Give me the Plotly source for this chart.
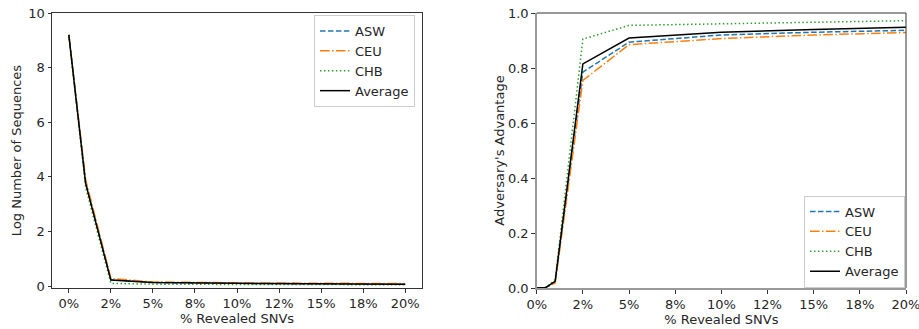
import plotly.graph_objects as go

# ---- data ----
x_pct = [0, 0.005, 0.01, 0.025, 0.05, 0.1, 0.15, 0.2]
tick_vals = [0, 0.025, 0.05, 0.075, 0.1, 0.125, 0.15, 0.175, 0.2]
tick_text = ["0%", "2%", "5%", "8%", "10%", "12%", "15%", "18%", "20%"]
series_names = ["ASW", "CEU", "CHB", "Average"]

log_seq = {
    "ASW":     [9.2, 6.45, 3.78, 0.24, 0.13, 0.10, 0.08, 0.07],
    "CEU":     [9.2, 6.55, 3.90, 0.28, 0.15, 0.12, 0.10, 0.09],
    "CHB":     [9.2, 6.35, 3.62, 0.10, 0.07, 0.06, 0.05, 0.05],
    "Average": [9.2, 6.45, 3.76, 0.22, 0.13, 0.10, 0.08, 0.07],
}
advantage = {
    "ASW":     [0.0, 0.002, 0.022, 0.785, 0.894, 0.920, 0.930, 0.937],
    "CEU":     [0.0, 0.002, 0.018, 0.755, 0.885, 0.907, 0.920, 0.929],
    "CHB":     [0.0, 0.002, 0.030, 0.905, 0.955, 0.960, 0.966, 0.972],
    "Average": [0.0, 0.002, 0.024, 0.815, 0.909, 0.930, 0.940, 0.948],
}

colors = {"ASW": "#1f77b4", "CEU": "#ff7f0e", "CHB": "#2ca02c", "Average": "#000000"}
dashes = {"ASW": "5.55px,2.4px", "CEU": "9.6px,2.4px,1.5px,2.4px",
          "CHB": "1.5px,2.475px", "Average": "solid"}

FONT = "DejaVu Sans"
FS = 13
LFS = 13
TXT = "#262626"

fig = go.Figure()
for name in series_names:
    fig.add_trace(go.Scatter(x=x_pct, y=log_seq[name], mode="lines", name=name,
                             line=dict(color=colors[name], dash=dashes[name], width=1.5),
                             xaxis="x", yaxis="y", legend="legend"))
for name in series_names:
    fig.add_trace(go.Scatter(x=x_pct, y=advantage[name], mode="lines", name=name,
                             line=dict(color=colors[name], dash=dashes[name], width=1.5),
                             xaxis="x2", yaxis="y2", legend="legend2"))

W, H = 919, 329
yd = [1 - 288 / H, 1 - 13 / H]

axis_common = dict(showgrid=False, zeroline=False, ticks="outside", ticklen=3.5,
                   tickwidth=1, tickcolor="#333", automargin=False,
                   ticklabeloverflow="allow",
                   tickfont=dict(family=FONT, size=FS, color=TXT))

fig.update_layout(
    width=W, height=H, margin=dict(l=0, r=0, t=0, b=0, autoexpand=False),
    paper_bgcolor="white", plot_bgcolor="white",
    font=dict(family=FONT, size=FS, color=TXT),
    xaxis=dict(domain=[52 / W, 422 / W], range=[-0.01, 0.21], tickvals=tick_vals,
               ticktext=tick_text, showline=True, mirror=True, linecolor="#333", linewidth=1,
               title=dict(text="% Revealed SNVs", standoff=0, font=dict(size=FS)),
               anchor="y", **axis_common),
    yaxis=dict(domain=yd, range=[-0.07, 10], tickvals=[0, 2, 4, 6, 8, 10],
               showline=True, mirror=True, linecolor="#333", linewidth=1,
               title=dict(text="Log Number of Sequences", standoff=3, font=dict(size=FS)),
               anchor="x", **axis_common),
    xaxis2=dict(domain=[536.7 / W, 906 / W], range=[0, 0.2], tickvals=tick_vals,
                ticktext=tick_text, showline=True, mirror=False, linecolor="#999", linewidth=2,
                title=dict(text="% Revealed SNVs", standoff=0, font=dict(size=FS)),
                anchor="y2", **axis_common),
    yaxis2=dict(domain=yd, range=[0, 1], tickvals=[0, 0.2, 0.4, 0.6, 0.8, 1.0],
                tickformat=".1f", showline=True, mirror=False, linecolor="#999", linewidth=2,
                title=dict(text="Adversary's Advantage", standoff=0, font=dict(size=FS)),
                anchor="x2", **axis_common),
    legend=dict(x=415 / W, xanchor="right", y=1 - 61 / H, yanchor="middle",
                bgcolor="rgba(255,255,255,0.8)", bordercolor="#cccccc", borderwidth=1,
                font=dict(family=FONT, size=LFS, color=TXT), itemwidth=30,
                tracegroupgap=0),
    legend2=dict(x=905 / W, xanchor="right", y=1 - 241.5 / H, yanchor="middle",
                 bgcolor="rgba(255,255,255,0.8)", bordercolor="#cccccc", borderwidth=1,
                 font=dict(family=FONT, size=LFS, color=TXT), itemwidth=30,
                 tracegroupgap=0),
    shapes=[
        dict(type="line", xref="x2 domain", yref="y2 domain", x0=0, x1=1, y0=1, y1=1,
             line=dict(color="#333", width=1)),
        dict(type="line", xref="x2 domain", yref="y2 domain", x0=1, x1=1, y0=0, y1=1,
             line=dict(color="#333", width=1)),
    ],
)

fig.write_html("out.html")
